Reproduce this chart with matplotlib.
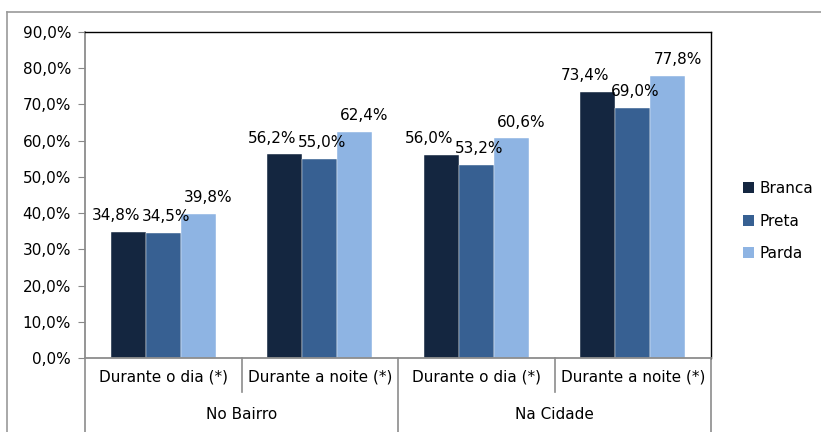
import matplotlib
matplotlib.use('Agg')
import matplotlib.pyplot as plt
from matplotlib.lines import Line2D
from matplotlib.patches import Patch
import matplotlib.transforms as mtransforms
import numpy as np

# Dados
grupos = ['No Bairro', 'Na Cidade']
categorias = ['Durante o dia (*)', 'Durante a noite (*)', 'Durante o dia (*)', 'Durante a noite (*)']
series = ['Branca', 'Preta', 'Parda']
branca = [34.8, 56.2, 56.0, 73.4]
preta = [34.5, 55.0, 53.2, 69.0]
parda = [39.8, 62.4, 60.6, 77.8]
cores = ['#142640', '#376092', '#8EB4E3']
yticks = [0, 10, 20, 30, 40, 50, 60, 70, 80, 90]

plt.rcParams['font.family'] = ['DejaVu Sans']
fs = 11

fig = plt.figure(figsize=(8.21, 4.32), dpi=100)
ax = fig.add_axes([85/821, 1 - 358/432, (711 - 85)/821, (358 - 32)/432])

x = np.arange(len(categorias))
largura = 0.224
desloc_lbl = [-9, 2, 7]  # deslocamento horizontal dos rotulos (pt)

for i, (nome, vals) in enumerate(zip(series, [branca, preta, parda])):
    pos = x + (i - 1) * largura
    ax.bar(pos, vals, largura, color=cores[i], label=nome, edgecolor='white', linewidth=0.3)
    for xp, v in zip(pos, vals):
        ax.annotate(f"{v:.1f}%".replace('.', ','), xy=(xp, v), xytext=(desloc_lbl[i], 8.5),
                    textcoords='offset points', ha='center', va='baseline', fontsize=fs)

ax.set_xlim(-0.5, len(categorias) - 0.5)
ax.set_ylim(0, 90)
ax.set_yticks(yticks)
ax.set_yticklabels([f"{t:.1f}%".replace('.', ',') for t in yticks])
ax.tick_params(axis='y', length=5, color='#888888', pad=5, labelsize=fs)
ax.set_xticks(x)
ax.set_xticklabels(categorias)
ax.tick_params(axis='x', length=0, pad=8, labelsize=fs)

for s in ['left', 'bottom']:
    ax.spines[s].set_color('#8c8c8c')
    ax.spines[s].set_linewidth(1.3)
for s in ['top', 'right']:
    ax.spines[s].set_color('black')
    ax.spines[s].set_linewidth(1.0)

# eixo de categorias em dois niveis
trans = mtransforms.blended_transform_factory(ax.transData, ax.transAxes)
for b in np.arange(-0.5, len(categorias), 1.0):
    externo = int(round(b + 0.5)) % 2 == 0
    fundo = -0.23 if externo else -0.104
    ax.add_line(Line2D([b, b], [0, fundo], transform=trans, color='#8c8c8c',
                       linewidth=1.2, clip_on=False))
for g, nome in enumerate(grupos):
    ax.text(2 * g + 0.5, -0.172, nome, transform=trans, ha='center', va='center', fontsize=fs)

handles = [Patch(facecolor=c) for c in cores]
fig.legend(handles, series, loc='center left', bbox_to_anchor=(729/821, 1 - 221/432),
           frameon=False, handlelength=0.75, handleheight=0.75, handletextpad=0.35,
           labelspacing=1.15, fontsize=fs)

# moldura externa
fig.add_artist(Line2D([7/821, 1], [1 - 12/432, 1 - 12/432], transform=fig.transFigure,
                      color='#9a9a9a', linewidth=1.2))
fig.add_artist(Line2D([7/821, 7/821], [0, 1 - 12/432], transform=fig.transFigure,
                      color='#9a9a9a', linewidth=1.2))

fig.savefig('out.png', dpi=100)
